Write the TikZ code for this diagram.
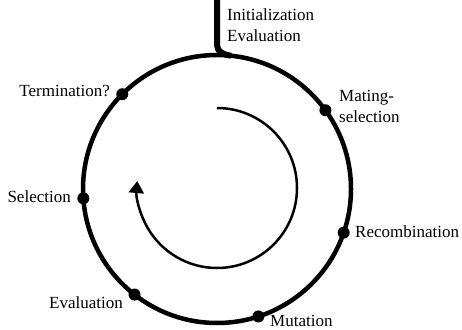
\documentclass[tikz,border=0pt]{standalone}
\usepackage{fontspec}
\setmainfont{Liberation Serif}
\usetikzlibrary{arrows.meta,positioning}

\begin{document}
\begin{tikzpicture}
[x=1pt, y=1pt, every node/.style = {font=\fontsize{17}{21}\selectfont, inner sep=0pt, align=left},
 ring/.style = {line width=4.5pt},
 dot/.style = {circle, fill, minimum size=12pt},
 cycle/.style = {line width=2.5pt, -{Triangle[length=12pt, width=15pt]}}]
\useasboundingbox (0,0) rectangle (462,329);
\coordinate (c) at (217,140);
\draw[ring] (c) circle (134);
% entry of the loop
\coordinate (start) at (217,329);
\coordinate (bend) at (217,284);
\coordinate (join) at ([shift={(84:134)}]c);
\draw[line width=6pt] (start) -- (bend) to[out=-90, in=174] (join);
\node[anchor=base west] (init) at (227,287) {Initialization\\Evaluation};
% stations on the ring
\node[dot] (mate) at ([shift={(36:134)}]c) {};
\node[dot] (recomb) at ([shift={(-19:134)}]c) {};
\node[dot] (mut) at ([shift={(-72:134)}]c) {};
\node[dot] (eval) at ([shift={(232:134)}]c) {};
\node[dot] (sel) at ([shift={(184:134)}]c) {};
\node[dot] (term) at ([shift={(135:134)}]c) {};
\node[anchor=base west] at (339,206) {Mating-\\selection};
\node[anchor=base west] at (355,92) {Recombination};
\node[anchor=base west] at (270,2.5) {Mutation};
\node[anchor=base east] at (123,21) {Evaluation};
\node[anchor=base east] at (71,126) {Selection};
\node[anchor=base east] at (110,232) {Termination?};
% inner arrow
\coordinate (loop) at (217,221);
\draw[cycle] (loop) arc[start angle=90, end angle=-185, radius=80];
\end{tikzpicture}
\end{document}
